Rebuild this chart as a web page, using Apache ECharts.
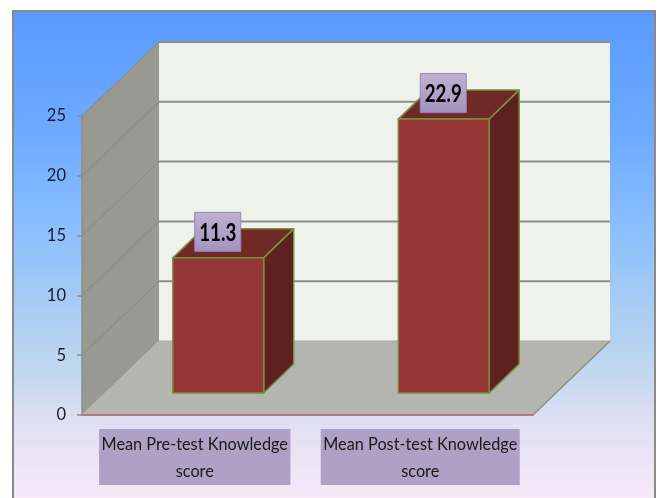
<!DOCTYPE html>
<html>
<head>
<meta charset="utf-8">
<style>
html, body { margin: 0; padding: 0; background: #fff; }
#chart { width: 658px; height: 498px; }
</style>
<script src="https://cdn.jsdelivr.net/npm/echarts@6/dist/echarts.min.js"></script>
</head>
<body>
<div id="chart"></div>
<script>
var categories = ['Mean Pre-test Knowledge score', 'Mean Post-test Knowledge score'];
var values = [11.3, 22.9];
var yTicks = [0, 5, 10, 15, 20, 25];

// fake 3d depth of the box and of the columns, in pixels
var wallDX = 77, wallDY = 74;
var barDX = 30, barDY = 29;
var barShiftX = 23.5, barShiftY = 22;

var FONT = 'Lato, "Open Sans", sans-serif';
var LINE = '#8e8e8a';

function poly(points, fill, stroke, width) {
    return {
        type: 'polygon',
        shape: { points: points },
        style: { fill: fill, stroke: stroke || null, lineWidth: width || 0, lineJoin: 'round' }
    };
}

function seg(x1, y1, x2, y2, color, width) {
    return {
        type: 'line',
        shape: { x1: x1, y1: y1, x2: x2, y2: y2 },
        style: { stroke: color, lineWidth: width }
    };
}

// walls + floor, drawn once for each y tick
function renderWalls(params, api) {
    var tick = api.value(0);
    var p = api.coord([0, tick]);
    var left = params.coordSys.x;
    var right = left + params.coordSys.width;
    var y = p[1];
    var kids = [];
    if (tick === 0) {
        var top = api.coord([0, yTicks[yTicks.length - 1]])[1];
        // back wall
        kids.push({ type: 'rect', shape: { x: left + wallDX, y: top - wallDY, width: right - left, height: y - top },
            style: { fill: '#eff1eb' } });
        // side wall
        kids.push(poly([[left, top], [left + wallDX, top - wallDY], [left + wallDX, y - wallDY], [left, y]], '#989a92'));
        // floor
        kids.push(poly([[left, y], [left + wallDX, y - wallDY], [right + wallDX, y - wallDY], [right, y]], '#b3b5ae'));
        kids.push(seg(right, y, right + wallDX, y - wallDY, LINE, 1.5));
        kids.push(seg(left + wallDX, y - wallDY, right + wallDX, y - wallDY, '#a9aaa5', 1));
        return { type: 'group', children: kids };
    }
    kids.push(seg(left, y, left + wallDX, y - wallDY, LINE, 1.2));
    kids.push(seg(left + wallDX, y - wallDY, right + wallDX, y - wallDY, LINE, 2));
    return { type: 'group', children: kids };
}

function renderBar(params, api) {
    var idx = api.value(0);
    var top = api.coord([idx, api.value(1)]);
    var base = api.coord([idx, 0]);
    var w = api.size([1, 0])[0] * 0.403;
    var x0 = top[0] - w / 2 + barShiftX;
    var x1 = x0 + w;
    var yt = top[1] - barShiftY;
    var yb = base[1] - barShiftY;
    var edge = '#78903f';
    var cx = (x0 + x1) / 2 - 0.5;
    var cy = yt - 26;
    return {
        type: 'group',
        children: [
            poly([[x0, yt], [x0 + barDX, yt - barDY], [x1 + barDX, yt - barDY], [x1, yt]], '#6f2a27', edge, 1.5),
            poly([[x1, yt], [x1 + barDX, yt - barDY], [x1 + barDX, yb - barDY], [x1, yb]], '#5f2120', edge, 1.5),
            { type: 'rect', shape: { x: x0, y: yt, width: w, height: yb - yt },
                style: { fill: '#943634', stroke: edge, lineWidth: 1.5 } },
            { type: 'rect', shape: { x: cx - 23, y: cy - 19.5, width: 46, height: 39 },
                style: {
                    fill: new echarts.graphic.LinearGradient(0, 0, 0, 1, [
                        { offset: 0, color: '#c0b2d0' },
                        { offset: 1, color: '#a492bf' }
                    ]),
                    stroke: '#9b82c0', lineWidth: 1
                } },
            { type: 'text', x: cx, y: cy + 1, scaleX: 0.78, style: {
                text: api.value(1).toFixed(1), fill: '#000', align: 'center', verticalAlign: 'middle',
                font: 'bold 24px ' + FONT
            } }
        ]
    };
}

var chart = echarts.init(document.getElementById('chart'), null, { renderer: 'canvas' });
chart.setOption({
    animation: false,
    graphic: [{
        type: 'rect', z: -10, silent: true,
        shape: { x: 13, y: 11, width: 642, height: 500 },
        style: {
            fill: new echarts.graphic.LinearGradient(0, 0, 0, 1, [
                { offset: 0, color: '#5a9aff' },
                { offset: 0.25, color: '#6eaaff' },
                { offset: 0.4, color: '#84bcff' },
                { offset: 0.68, color: '#b8d4ef' },
                { offset: 0.82, color: '#dfdff3' },
                { offset: 1, color: '#fcebf9' }
            ]),
            stroke: '#8a8a88', lineWidth: 2
        }
    }],
    grid: { left: 82, top: 116, width: 451, height: 299, containLabel: false },
    xAxis: {
        type: 'category',
        data: categories,
        z: 6,
        axisLine: { lineStyle: { color: '#b57a78', width: 2 } },
        axisTick: { show: false },
        axisLabel: {
            interval: 0,
            margin: 14,
            color: '#1a1a1a',
            fontFamily: FONT,
            fontSize: 16.3,
            lineHeight: 27,
            align: 'center',
            backgroundColor: '#b0a0c6',
            padding: [2, 2.5, 0, 2.5],
            formatter: function (v) { return v.replace(' score', '\nscore'); }
        }
    },
    yAxis: {
        type: 'value',
        min: yTicks[0],
        max: yTicks[yTicks.length - 1],
        interval: yTicks[1] - yTicks[0],
        z: 6,
        axisLine: { show: true, lineStyle: { color: LINE, width: 1.5 } },
        axisTick: { show: true, length: 5, lineStyle: { color: LINE, width: 1.5 } },
        axisLabel: { margin: 16, color: '#1a1a2a', fontFamily: FONT, fontSize: 16.5, padding: [11, 0, 0, 0] },
        splitLine: { show: false }
    },
    series: [
        {
            type: 'custom',
            name: 'walls',
            z: 1,
            silent: true,
            renderItem: renderWalls,
            data: yTicks.map(function (t) { return [t]; }),
            encode: { y: 0 }
        },
        {
            type: 'custom',
            name: 'Knowledge score',
            z: 2,
            renderItem: renderBar,
            data: values.map(function (v, i) { return [i, v]; }),
            encode: { x: 0, y: 1 }
        }
    ]
});
</script>
</body>
</html>
